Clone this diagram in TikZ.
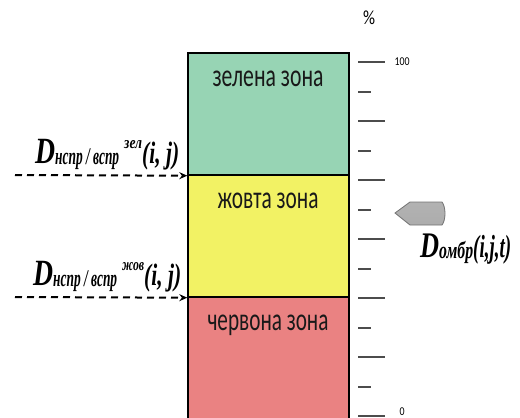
\documentclass[tikz,border=0pt]{standalone}
\usepackage{fontspec}
\setmainfont{Liberation Serif}
\newfontfamily\zonefont{Carlito}
\usetikzlibrary{arrows.meta}
\definecolor{zgreen}{RGB}{151,212,180}
\definecolor{zyellow}{RGB}{242,242,100}
\definecolor{zred}{RGB}{234,130,130}
\tikzset{zone/.style={draw=black, line width=1.4pt, minimum width=161pt, minimum height=122pt, inner sep=0pt},
  zonetxt/.style={anchor=base, inner sep=0pt, text=black!90, font=\zonefont\fontsize{32}{32}\selectfont},
  dlbl/.style={anchor=base west, inner sep=0pt, font=\bfseries\itshape},
  dasharrow/.style={dash pattern=on 7pt off 5pt, line width=2pt, -{Stealth[length=8pt,width=7pt]}},
  tick/.style={line width=2pt, black!70},
  scalelbl/.style={inner sep=0pt, font=\zonefont\fontsize{12}{12}\selectfont}}
\newcommand{\sqz}[2]{\resizebox{#1}{\height}{#2}}
\newcommand{\dnspr}[2]{\sqz{20pt}{\fontsize{37}{37}\selectfont D}\raisebox{-1pt}{\sqz{64pt}{\fontsize{24}{24}\selectfont нспр / вспр}}\hspace{5pt}\raisebox{15pt}{\sqz{#2}{\fontsize{17}{17}\selectfont #1}}\sqz{37pt}{\fontsize{31}{31}\selectfont (i, j)}}

\begin{document}
\begin{tikzpicture}[x=1pt, y=-1pt]
\useasboundingbox (0,0) rectangle (520,418);
\node[zone, fill=zgreen] (green) at (268.5,114) {};
\node[zone, fill=zyellow] (yellow) at (268.5,236) {};
\node[zone, fill=zred] (red) at (268.5,358) {};
\node[zonetxt] (greentxt) at (268,86) {\sqz{111pt}{зелена зона}};
\node[zonetxt] (yellowtxt) at (268,208) {\sqz{101pt}{жовта зона}};
\node[zonetxt] (redtxt) at (268,330) {\sqz{121pt}{червона зона}};

\coordinate (s1) at (15,175);
\coordinate (s2) at (15,297);
\draw[dasharrow] (s1) -- (green.south west);
\draw[dasharrow] (s2) -- (yellow.south west);
\node[dlbl] (dzel) at (35,163) {\dnspr{зел}{18pt}};
\node[dlbl] (dzhov) at (33,285) {\dnspr{жов}{22pt}};

\foreach \i in {0,...,12}{
  \ifodd\i
    \draw[tick] (358,{62+29.5*\i}) -- +(13,0);
  \else
    \draw[tick] (358,{62+29.5*\i}) -- +(27,0);
  \fi
}
\node[scalelbl] (top) at (402,62) {\sqz{15pt}{100}};
\node[scalelbl] (bottom) at (402,412) {\sqz{5pt}{0}};
\node[inner sep=0pt, font=\zonefont\fontsize{20}{20}\selectfont] (pct) at (369,18) {\sqz{12pt}{\%}};

\shade[top color=gray!60, middle color=white, bottom color=gray!65, draw=black!55, line width=0.8pt]
  (395,213) -- (410,202) -- (442,202) .. controls (446,207) and (446,220) .. (442,225) -- (410,225) -- cycle;
\node[dlbl] (domb) at (420,257) {\sqz{19pt}{\fontsize{36}{36}\selectfont D}\raisebox{-1pt}{\sqz{34pt}{\fontsize{24}{24}\selectfont омбр}}\sqz{38pt}{\fontsize{32}{32}\selectfont (i,j,t)}};
\end{tikzpicture}
\end{document}
